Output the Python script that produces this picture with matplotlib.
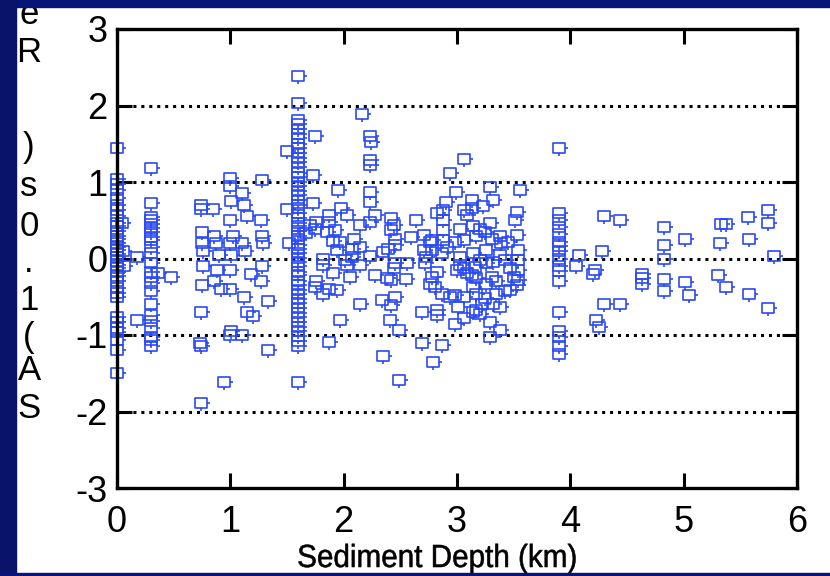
import numpy as np
import matplotlib
matplotlib.use('Agg')
import matplotlib.pyplot as plt
from matplotlib.path import Path
from matplotlib.patches import Rectangle, PathPatch
from matplotlib.textpath import TextPath
from matplotlib.font_manager import FontProperties
from matplotlib.transforms import Affine2D, IdentityTransform

plt.rcParams['axes.unicode_minus'] = False

# --- Residuals at sites that share one depth (km) ---
depth_000 = [1.45, 1.04, 0.97, 0.9, 0.79, 0.7, 0.63, 0.55, 0.47, 0.42, 0.36, 0.3, 0.25,
             0.2, 0.15, 0.11, 0.06, 0.02, -0.03, -0.08, -0.12, -0.17, -0.23, -0.3, -0.38,
             -0.45, -0.5, -0.76, -0.83, -0.91, -0.96, -1.07, -1.2, -1.5]
depth_030 = [1.18, 0.72, 0.54, 0.5, 0.45, 0.4, 0.34, 0.28, 0.24, 0.15, 0.07, -0.06,
             -0.17, -0.24, -0.32, -0.43, -0.6, -0.74, -0.82, -0.91, -1.02, -1.07, -1.15]
depth_160 = [2.38, 2.03, 1.81, 1.76, 1.69, 1.63, 1.57, 1.5, 1.45, 1.38, 1.31, 1.26, 1.19,
             1.12, 1.07, 1.0, 0.95, 0.88, 0.83, 0.77, 0.7, 0.66, 0.59, 0.53, 0.47, 0.43,
             0.36, 0.3, 0.25, 0.18, 0.13, 0.07, 0.01, -0.05, -0.1, -0.17, -0.22, -0.29,
             -0.34, -0.41, -0.46, -0.53, -0.58, -0.65, -0.71, -0.76, -0.83, -0.9, -0.95,
             -1.01, -1.08, -1.14, -1.61]
depth_390 = [1.45, 0.6, 0.5, 0.41, 0.32, 0.22, 0.16, 0.1, 0.0, -0.1, -0.16, -0.3, -0.7,
             -0.95, -1.02, -1.15, -1.25]

# --- Other sites as (depth km, residual) ---
pts_shallow = [
    (0.04, 0.46), (0.05, 0.1), (0.06, -0.1), (0.18, 0.02), (0.18, -0.8), (0.36, -0.19),
    (0.48, -0.24), (0.74, 0.7), (0.74, 0.65), (0.75, 0.35), (0.75, 0.2), (0.76, 0.1),
    (0.76, -0.1), (0.75, -0.35), (0.74, -0.7), (0.73, -1.1), (0.74, -1.15), (0.74, -1.89),
    (0.94, -1.61), (0.85, 0.65), (0.86, 0.3), (0.87, 0.2), (0.9, 0.05), (0.88, -0.15),
    (0.86, -0.3), (0.92, -0.4), (1.0, 1.05), (1.0, 0.95), (1.01, 0.75), (1.0, 0.5),
    (1.02, 0.3), (1.0, 0.2), (1.01, 0.05), (1.0, -0.15), (1.0, -0.4), (1.01, -0.95),
    (1.0, -1.0), (1.1, 0.85), (1.12, 0.7), (1.15, 0.55), (1.1, 0.2), (1.13, 0.1),
    (1.18, -0.2), (1.12, -0.5), (1.15, -0.7), (1.2, -0.75), (1.1, -1.0), (1.28, 1.03),
    (1.27, 0.5), (1.28, 0.3), (1.29, 0.2), (1.28, -0.1), (1.27, -0.3), (1.33, -0.55),
    (1.33, -1.2), (1.5, 1.4), (1.5, 0.65), (1.52, 0.2),
]
pts_mid = [
    (1.73, 1.09), (1.95, 0.9), (2.23, 1.29), (2.23, 1.22), (2.23, 0.87), (2.23, 0.74),
    (1.73, 0.72), (1.98, 0.66), (2.03, 0.57), (1.87, 0.57), (1.87, 0.48), (1.76, 0.48),
    (1.7, 0.44), (1.75, 0.39), (1.67, 0.33), (1.85, 0.35), (1.92, 0.37), (2.14, 0.44),
    (2.23, 0.48), (2.28, 0.57), (2.42, 0.53), (2.44, 0.44), (2.42, 0.37), (2.59, 0.28),
    (2.45, 0.26), (2.45, 0.18), (2.39, 0.13), (2.35, 0.09), (2.23, 0.03), (2.14, 0.15),
    (2.09, 0.26), (2.07, 0.13), (1.97, 0.22), (1.91, 0.23), (1.94, 0.11), (1.82, 0.0),
    (1.82, -0.09), (2.03, -0.09), (2.14, -0.09), (2.01, -0.02), (2.07, 0.02),
    (1.91, -0.19), (2.06, -0.24), (2.28, -0.22), (2.38, -0.26), (2.42, -0.28),
    (2.44, -0.13), (2.45, -0.06), (2.56, -0.06), (2.55, -0.27), (1.76, -0.3),
    (1.75, -0.37), (1.82, -0.46), (1.87, -0.4), (1.94, -0.41), (2.14, -0.59),
    (2.34, -0.54), (2.45, -0.5), (2.42, -0.61), (1.97, -0.8), (2.41, -0.8), (2.49, -0.94),
    (1.87, -1.09), (2.35, -1.28), (2.49, -1.59), (2.16, 1.89), (2.23, 1.6), (2.24, 1.52),
    (1.75, 1.6),
]
pts_deep = [
    (2.64, 0.5), (2.71, 0.31), (2.78, 0.24), (3.06, 1.3), (2.94, 1.12), (2.99, 0.87),
    (3.29, 0.93), (3.56, 0.9), (2.69, -0.7), (2.82, -0.67), (2.82, -0.74), (2.69, -1.1),
    (2.87, -1.13), (2.79, -1.35), (2.71, 0.11), (2.73, 0.02), (2.72, -0.06), (2.78, -0.24),
    (2.76, -0.33), (2.82, -0.17), (2.81, -0.37), (2.87, -0.46), (2.94, -0.5), (2.98, -0.48),
    (3.06, -0.5), (3.01, -0.63), (2.98, -0.85), (3.06, -0.78), (3.14, -0.7), (3.2, -0.72),
    (3.29, -0.83), (3.38, -0.94), (3.29, -1.02), (3.38, -0.63), (3.32, -0.59), (3.25, -0.52),
    (3.17, -0.46), (3.14, -0.37), (3.17, -0.26), (3.13, -0.22), (3.06, -0.13), (3.03, -0.09),
    (3.09, -0.19), (3.14, 0.07), (3.2, -0.02), (3.26, -0.06), (3.32, -0.04), (3.38, 0.05),
    (3.42, -0.02), (3.47, -0.13), (3.54, 0.11), (3.54, -0.02), (3.54, -0.15), (3.54, -0.28),
    (3.53, -0.35), (3.47, -0.41), (3.42, -0.43), (3.5, -0.24), (3.31, -0.24), (3.34, -0.3),
    (3.26, -0.33), (3.34, -0.46), (3.22, -0.59), (3.17, -0.67), (3.2, 0.39), (3.14, 0.42),
    (3.17, 0.29), (3.25, 0.35), (3.29, 0.46), (3.31, 0.26), (3.38, 0.29), (3.39, 0.2),
    (3.45, 0.22), (3.53, 0.31), (3.51, 0.5), (3.53, 0.61), (3.32, 0.76), (3.23, 0.68),
    (3.13, 0.76), (3.13, 0.66), (3.06, 0.63), (3.09, 0.57), (3.03, 0.39), (3.06, 0.24),
    (2.98, 0.22), (2.88, 0.37), (2.88, 0.5), (2.88, 0.63), (2.9, 0.74), (2.82, 0.59),
    (2.88, 0.24), (2.91, 0.15), (2.87, 0.07), (2.76, 0.22), (2.78, 0.11), (3.0, -0.15),
    (3.03, 0.02), (3.16, -0.11), (3.26, 0.11),
]
pts_far = [
    (4.05, -0.1), (4.08, 0.05), (4.2, -0.2), (4.22, -0.15), (4.23, -0.8), (4.25, -0.9),
    (4.28, 0.1), (4.3, 0.55), (4.3, -0.6), (4.44, 0.5), (4.44, -0.6), (4.63, -0.2),
    (4.63, -0.25), (4.63, -0.33), (4.83, 0.41), (4.83, 0.18), (4.83, 0.0), (4.83, -0.27),
    (4.83, -0.43), (5.01, 0.25), (5.01, -0.31), (5.05, -0.48), (5.33, 0.45), (5.37, 0.45),
    (5.32, 0.2), (5.3, -0.21), (5.37, -0.37), (5.57, 0.54), (5.58, 0.25), (5.58, -0.46),
    (5.74, 0.63), (5.74, 0.46), (5.74, -0.65), (5.8, 0.03),
]

x_ticks = [0, 1, 2, 3, 4, 5, 6]
y_ticks = [-3, -2, -1, 0, 1, 2, 3]
x_label = 'Sediment Depth (km)'
y_label_chars = ['S', 'A', '(', '1', '.', '0', 's', ')', 'R', 'e']
y_label_pos = [408, 370, 337, 301, 262, 226, 186, 148, 52, 15]  # px from top

W, H = 830, 576
fig = plt.figure(figsize=(W / 100, H / 100), dpi=100, facecolor='white')
ax = fig.add_axes([117 / W, 1 - 488 / H, 680 / W, 459 / H])

# square marker with small stubs below and to the right
verts = [(-1, -0.8), (1, -0.8), (1, 0.8), (-1, 0.8), (-1, -0.8),
         (0, -0.8), (0, -1.3), (1, 0), (1.35, 0)]
codes = [Path.MOVETO, Path.LINETO, Path.LINETO, Path.LINETO, Path.CLOSEPOLY,
         Path.MOVETO, Path.LINETO, Path.MOVETO, Path.LINETO]
sq = Path(verts, codes)

blue = '#2b4af2'
style = dict(marker=sq, ms=12.5, mfc='none', mec=blue, mew=1.2, ls='none', clip_on=False)

for d, vals in [(0.0, depth_000), (0.3, depth_030), (1.6, depth_160), (3.9, depth_390)]:
    ax.plot(np.full(len(vals), d), vals, **style)
for pts in [pts_shallow, pts_mid, pts_deep, pts_far]:
    xy = np.array(pts)
    ax.plot(xy[:, 0], xy[:, 1], **style)

ax.set_xlim(0, 6)
ax.set_ylim(-3, 3)
ax.set_xticks(x_ticks)
ax.set_yticks(y_ticks)
for yv in y_ticks[1:-1]:
    ax.axhline(yv, color='black', lw=2.2, ls=(0, (1, 1.6)), zorder=0)

for s in ax.spines.values():
    s.set_linewidth(2.4)
ax.tick_params(direction='in', length=11, width=2.2, top=True, right=True,
               labelsize=26)
ax.tick_params(axis='x', pad=12)
ax.tick_params(axis='y', pad=7)
for lab in ax.get_xticklabels() + ax.get_yticklabels():
    lab.set_fontfamily('Liberation Sans')

# x label: Arial-like text squeezed horizontally
tp = TextPath((0, 0), x_label, size=32, prop=FontProperties(family='Liberation Sans'))
ext = tp.get_extents()
squeeze = 277 / ext.width
tr = Affine2D().translate(-ext.x0 - ext.width / 2, 0).scale(squeeze, 1).translate(437, H - 567)
fig.patches.append(PathPatch(tr.transform_path(tp), transform=IdentityTransform(),
                             facecolor='black', edgecolor='black', lw=0.4))

# y label drawn as a column of upright characters
for ch, py in zip(y_label_chars, y_label_pos):
    fig.text(29 / W, 1 - py / H, ch, ha='center', va='center', fontsize=25,
             family='Liberation Sans')

# slide border
navy = '#071579'
fig.patches.append(Rectangle((0, 1 - 7 / H), 1, 7 / H, transform=fig.transFigure,
                             color=navy, zorder=10))
fig.patches.append(Rectangle((0, 0), 16 / W, 1, transform=fig.transFigure,
                             color='#09136a', zorder=10))
fig.patches.append(Rectangle((0, 0), 1, 3 / H, transform=fig.transFigure,
                             color=navy, zorder=10))

fig.savefig('out.png', dpi=100, facecolor='white')
